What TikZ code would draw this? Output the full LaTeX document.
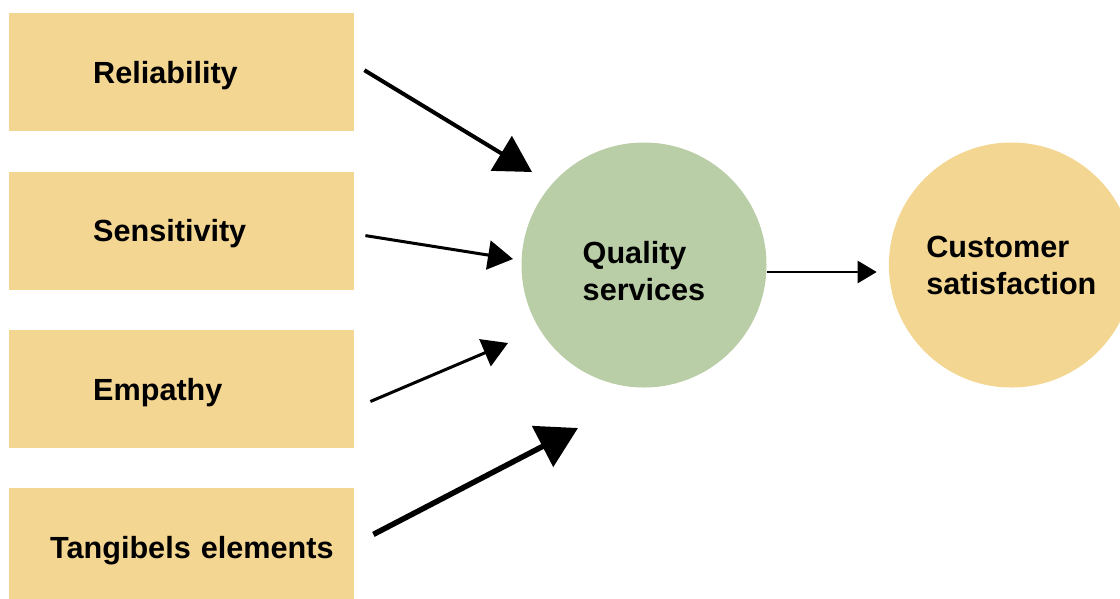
\documentclass[tikz,border=0pt]{standalone}
\usepackage{fontspec}
\setmainfont{Liberation Sans}
\usetikzlibrary{arrows.meta,positioning}

\definecolor{sand}{RGB}{243,214,146}
\definecolor{sage}{RGB}{185,206,167}

\begin{document}
\begin{tikzpicture}[
    x=1pt, y=1pt,
    node distance=40pt,
    factor/.style={rectangle, fill=sand, minimum height=118pt, inner xsep=84pt, text width=177pt, text depth=0pt, align=left, font=\bfseries\fontsize{30.6}{37}\selectfont},
    hub/.style={circle, minimum size=245pt, inner sep=0pt, text depth=0pt, align=left, font=\bfseries\fontsize{30.6}{37}\selectfont},
    heavyarrow/.style={-{Triangle[length=40pt, width=45pt]}, line width=5.5pt},
    thickarrow/.style={-{Triangle[length=36pt, width=40pt]}, line width=4pt},
    midarrow/.style={-{Triangle[length=25pt, width=29pt]}, line width=3pt},
    thinarrow/.style={-{Triangle[length=19pt, width=22pt]}, line width=2.5pt}
]
    \useasboundingbox (0,0) rectangle (1120,-598);
    \clip (0,0) rectangle (1120,-598);

    % Service dimensions
    \node[factor, anchor=north west] (rel) at (9,-13) {Reliability};
    \node[factor, below=of rel] (sen) {Sensitivity};
    \node[factor, below=of sen] (emp) {Empathy};
    \node[factor, below=of emp, inner xsep=41pt, text width=263pt] (tan) {\mbox{Tangibels elements}};

    % Outcomes
    \node[hub, fill=sage, text height=71pt] (qs) at (644,-265) {Quality\\services};
    \node[hub, fill=sand, right=122pt of qs] (cs) {Customer\\satisfaction};

    % Arrows
    \draw[thickarrow] ([shift={(10,2)}]rel.east) -- ([shift={(-112,93)}]qs.center);
    \draw[midarrow] ([shift={(11,-5)}]sen.east) -- ([shift={(-131,6)}]qs.center);
    \draw[midarrow] ([shift={(16,-12.5)}]emp.east) -- ([shift={(-136,-78)}]qs.center);
    \draw[heavyarrow] ([shift={(19,13)}]tan.east) -- ([shift={(-66,-163)}]qs.center);
    \draw[thinarrow] ([yshift=-7pt]qs.east) -- ([shift={(-12,-7)}]cs.west);
\end{tikzpicture}
\end{document}
